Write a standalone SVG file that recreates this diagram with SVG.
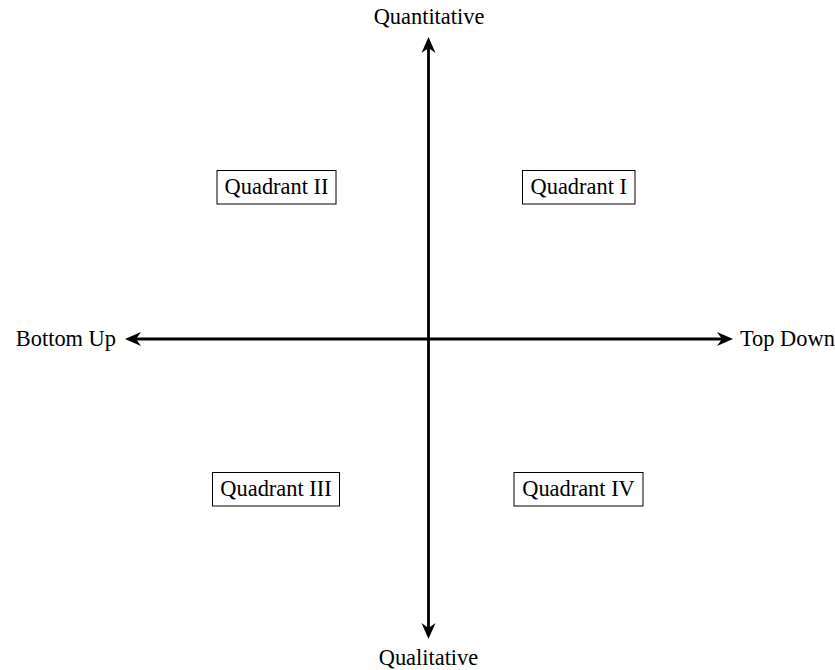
<svg xmlns="http://www.w3.org/2000/svg" width="835" height="670" viewBox="0 0 835 670">
<style>
text { font-family: "Liberation Serif", "Times New Roman", serif; font-size: 22.4px; fill: #000; }
.box { fill: #fff; stroke: #000; stroke-width: 1; }
.axis { stroke: #000; stroke-width: 2.8; fill: none; }
</style>
<defs>
<marker id="ah" viewBox="0 0 17 16" refX="5.5" refY="8" markerWidth="17" markerHeight="16" markerUnits="userSpaceOnUse" orient="auto-start-reverse">
<path d="M16.5,8 L0.5,1 L5.5,8 L0.5,15 Z" fill="#000"/>
</marker>
</defs>
<rect width="835" height="670" fill="#fff"/>
<g id="connectors">
<line class="axis" x1="428.5" y1="628" x2="428.5" y2="48" marker-start="url(#ah)" marker-end="url(#ah)"/>
<line class="axis" x1="136" y1="339" x2="722" y2="339" marker-start="url(#ah)" marker-end="url(#ah)"/>
</g>
<g id="label-quantitative"><text x="429" y="23.5" text-anchor="middle">Quantitative</text></g>
<g id="label-qualitative"><text x="428.5" y="665" text-anchor="middle">Qualitative</text></g>
<g id="label-bottomup"><text x="116" y="346" text-anchor="end">Bottom Up</text></g>
<g id="label-topdown"><text x="740" y="346">Top Down</text></g>
<g id="q2"><rect class="box" x="217" y="170.5" width="119" height="33.5"/><text x="276.5" y="194" text-anchor="middle">Quadrant II</text></g>
<g id="q1"><rect class="box" x="522.5" y="170.5" width="112.5" height="33.5"/><text x="578.75" y="194" text-anchor="middle">Quadrant I</text></g>
<g id="q3"><rect class="box" x="212.5" y="472.5" width="127" height="33.5"/><text x="276" y="496" text-anchor="middle">Quadrant III</text></g>
<g id="q4"><rect class="box" x="514" y="472.5" width="129" height="33.5"/><text x="578.5" y="496" text-anchor="middle">Quadrant IV</text></g>
</svg>
